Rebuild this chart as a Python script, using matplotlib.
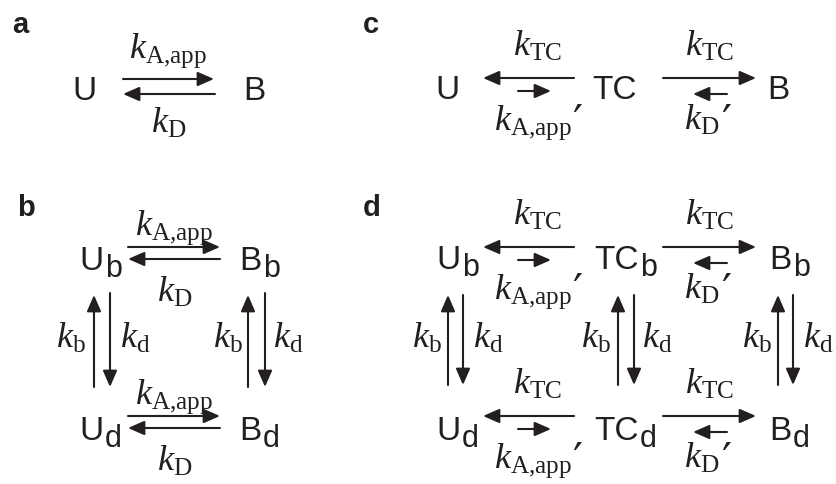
import matplotlib.pyplot as plt

plt.rcParams['mathtext.fontset'] = 'custom'
plt.rcParams['mathtext.rm'] = 'Liberation Serif'
plt.rcParams['mathtext.it'] = 'Liberation Serif:italic'

INK = '#231f20'

# species and states
panel_letters = ['a', 'b', 'c', 'd']
species_a = ['U', 'B']
species_c = ['U', 'TC', 'B']
states = ['b', 'd']

# rate constants (mathtext)
k_assoc = r'$k_{\mathrm{A{,}app}}$'
k_dissoc = r'$k_{\mathrm{D}}$'
k_tc = r'$k_{\mathrm{TC}}$'
k_bind = r'$k_{\mathrm{b}}$'
k_unbind = r'$k_{\mathrm{d}}$'
prime = '\u2032'

fig = plt.figure(figsize=(8.37, 4.84), dpi=100)
ax = fig.add_axes([0, 0, 1, 1])
ax.set_xlim(0, 837)
ax.set_ylim(484, 0)
ax.axis('off')


def arrow(x0, y0, x1, y1):
    ax.annotate('', xy=(x1, y1), xytext=(x0, y0),
                arrowprops=dict(arrowstyle='-|>,head_length=0.55,head_width=0.24',
                                lw=1.5, color=INK, shrinkA=0, shrinkB=0,
                                mutation_scale=18))


def species(xj, y, main, sub=None):
    ax.text(xj, y, main, ha='right' if sub else 'center', va='baseline',
            fontsize=24, family='Liberation Sans', color=INK)
    if sub:
        ax.text(xj + 1, y + 7, sub, ha='left', va='baseline',
                fontsize=22, family='Liberation Sans', color=INK)


def rate(x, y, label, prime_at=None):
    ax.text(x, y, label, ha='center', va='baseline', fontsize=26, color=INK)
    if prime_at:
        ax.text(prime_at[0], prime_at[1], prime, ha='left', va='top',
                fontsize=32, family='DejaVu Sans', color=INK)


# panel letters
for (lx, ly), letter in zip([(12, 33), (17, 216), (363, 33), (363, 216)], panel_letters):
    ax.text(lx, ly, letter, ha='left', va='baseline', fontsize=21,
            fontweight='bold', family='Liberation Sans', color=INK)

# ---- a: U <=> B
species(84, 100, species_a[0])
species(254, 100, species_a[1])
arrow(123, 79, 214, 79)
arrow(215, 94, 123, 94)
rate(168, 58, k_assoc)
rate(169, 133, k_dissoc)

# ---- b: bound / dissociated square
for row, (ym, ya) in enumerate([(270, 247), (440, 416)]):
    st = states[row]
    species(104, ym, 'U', st)
    species(262, ym, 'B', st)
    arrow(128, ya, 220, ya)
    arrow(220, ya + 12, 128, ya + 12)
    rate(174, ya - 12, k_assoc)
    rate(175, ya + 55, k_dissoc)
for xu, xd, xkb, xkd in [(94, 110, 71, 135), (248, 265, 228, 288)]:
    arrow(xu, 387, xu, 295)
    arrow(xd, 293, xd, 387)
    rate(xkb, 348, k_bind)
    rate(xkd, 348, k_unbind)


# ---- c / d: U <- TC -> B with back reactions
def tc_row(ym, ya, sub=None):
    names = species_c
    if sub:
        for xj, name in zip([461, 639, 792], names):
            species(xj, ym, name, sub)
    else:
        for xc, name in zip([447, 615, 778], names):
            species(xc, ym, name)
    arrow(574, ya, 483, ya)
    arrow(518, ya + 13, 551, ya + 13)
    arrow(663, ya, 756, ya)
    arrow(727, ya + 16, 693, ya + 16)
    rate(537, ya - 22, k_tc)
    rate(709, ya - 22, k_tc)
    rate(533, ya + 52, k_assoc, prime_at=(572, ya + 25))
    rate(702, ya + 52, k_dissoc, prime_at=(721, ya + 25))


tc_row(99, 78)
tc_row(269, 247, 'b')
tc_row(440, 416, 'd')
for xu, xd, xkb, xkd in [(448, 463, 427, 488), (618, 634, 596, 657), (778, 793, 757, 818)]:
    arrow(xu, 385, xu, 295)
    arrow(xd, 295, xd, 385)
    rate(xkb, 348, k_bind)
    rate(xkd, 348, k_unbind)

fig.savefig('out.png', dpi=100)
